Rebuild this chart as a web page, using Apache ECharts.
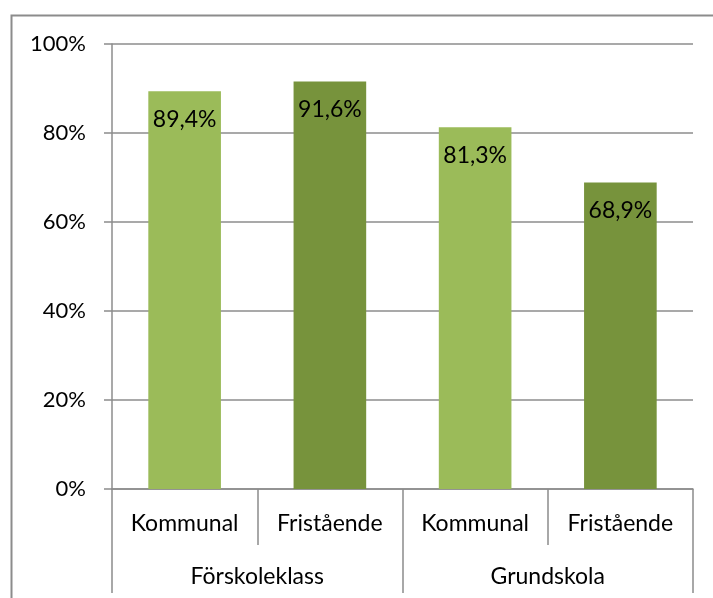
<!DOCTYPE html>
<html>
<head>
<meta charset="utf-8">
<script src="https://cdn.jsdelivr.net/npm/echarts@6/dist/echarts.min.js"></script>
<style>html,body{margin:0;padding:0;background:#fff}#c{width:713px;height:598px}</style>
</head>
<body>
<div id="c"></div>
<script>
var categories = ['Kommunal', 'Fristående', 'Kommunal', 'Fristående'];
var groups = ['Förskoleklass', 'Grundskola'];
var values = [89.4, 91.6, 81.3, 68.9];
var labels = ['89,4%', '91,6%', '81,3%', '68,9%'];
var colors = ['#9BBB59', '#77933C', '#9BBB59', '#77933C'];

var FONT = 'Lato, "Noto Sans", sans-serif';
var chart = echarts.init(document.getElementById('c'));
chart.setOption({
  animation: false,
  textStyle: { fontFamily: FONT },
  graphic: [{
    type: 'rect', left: 9, top: 13, z: -1,
    shape: { width: 720, height: 600 },
    style: { fill: 'none', stroke: '#8c8c8c', lineWidth: 2 }
  }],
  grid: { left: 112, right: 20, top: 44, bottom: 109 },
  yAxis: {
    type: 'value', min: 0, max: 100, interval: 20,
    axisLine: { show: true, lineStyle: { color: '#8c8c8c', width: 1.5 } },
    axisTick: { show: true, length: 8, lineStyle: { color: '#8c8c8c', width: 1.5 } },
    splitLine: { lineStyle: { color: '#8c8c8c', width: 1.5 } },
    axisLabel: { formatter: '{value}%', color: '#000', fontSize: 22, fontFamily: FONT, margin: 26 }
  },
  xAxis: [{
    type: 'category', data: categories, position: 'bottom',
    axisLine: { show: true, lineStyle: { color: '#8c8c8c', width: 1.5 } },
    axisTick: { show: true, interval: 0, length: 56, lineStyle: { color: '#8c8c8c', width: 1.5 } },
    axisLabel: { color: '#000', fontSize: 23, fontFamily: FONT, margin: 23, interval: 0 }
  }, {
    type: 'category', data: groups, position: 'bottom',
    axisLine: { show: false },
    axisTick: { show: true, interval: 0, length: 104, lineStyle: { color: '#8c8c8c', width: 1.5 } },
    axisLabel: { color: '#000', fontSize: 23, fontFamily: FONT, margin: 76, interval: 0 }
  }],
  series: [{
    type: 'bar', xAxisIndex: 0, barWidth: '50%',
    data: values.map(function (v, i) {
      return { value: v, itemStyle: { color: colors[i] } };
    }),
    label: {
      show: true, position: 'insideTop', distance: 17,
      color: '#000', fontSize: 23, fontFamily: FONT,
      formatter: function (p) { return labels[p.dataIndex]; }
    }
  }]
});
</script>
</body>
</html>
